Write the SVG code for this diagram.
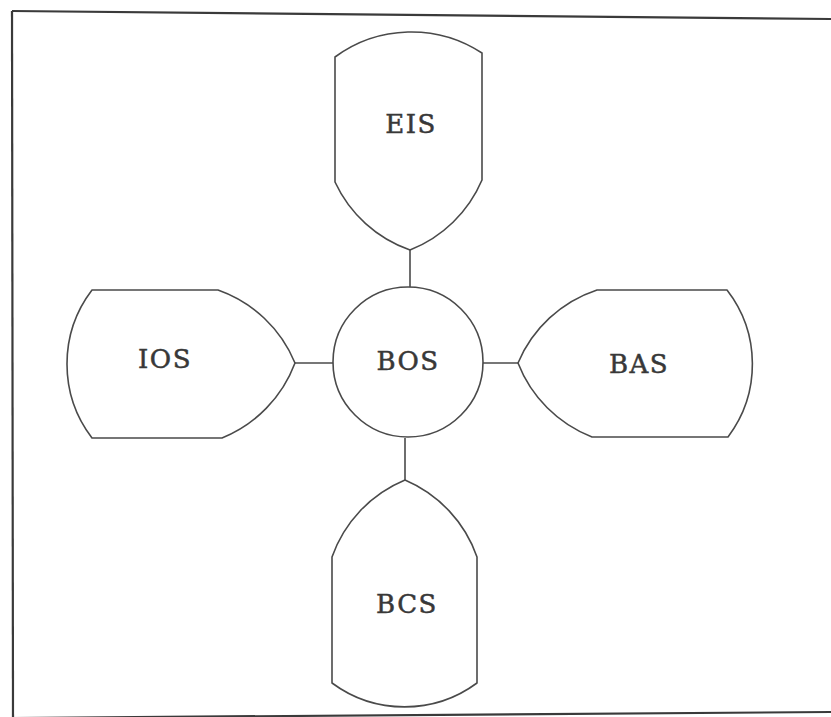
<svg xmlns="http://www.w3.org/2000/svg" width="831" height="717" viewBox="0 0 831 717">
<style>
.shape{fill:none;stroke:#4a4a4a;stroke-width:1.6;stroke-linejoin:round}
.conn{stroke:#4a4a4a;stroke-width:1.6;fill:none}
.frame{stroke:#3a3a3a;stroke-width:2.2;fill:none}
.lbl{font-family:"DejaVu Serif","Liberation Serif",serif;font-size:26px;letter-spacing:1.5px;fill:#383838;stroke:#383838;stroke-width:0.5;text-anchor:middle}
</style>
<rect width="831" height="717" fill="#ffffff"/>
<g id="frame">
<path class="frame" d="M12,11 L831,19"/>
<path class="frame" d="M12,11 L13,717"/>
<path class="frame" d="M13,718 L831,712"/>
</g>
<g id="connectors">
<line class="conn" x1="410" y1="250" x2="410" y2="287"/>
<line class="conn" x1="295" y1="363" x2="333" y2="363"/>
<line class="conn" x1="483" y1="363" x2="518" y2="363"/>
<line class="conn" x1="405" y1="438" x2="405" y2="480"/>
</g>
<g id="BOS">
<circle class="shape" cx="408" cy="362" r="75"/>
<text class="lbl" x="408" y="370">BOS</text>
</g>
<g id="EIS">
<path class="shape" d="M335,57 A129,129 0 0 1 482,53 L482,180 A130,130 0 0 1 410,250 A130,130 0 0 1 335,182 Z"/>
<text class="lbl" x="411" y="133">EIS</text>
</g>
<g id="IOS">
<path class="shape" d="M92,290 L218,290 A130,130 0 0 1 295,363 A130,130 0 0 1 222,438 L92,438 A122,122 0 0 1 92,290 Z"/>
<text class="lbl" x="165" y="368">IOS</text>
</g>
<g id="BAS">
<path class="shape" d="M597,290 L727,290 A121,121 0 0 1 728,437 L592,437 A130,130 0 0 1 518,363 A130,130 0 0 1 597,290 Z"/>
<text class="lbl" x="639" y="373">BAS</text>
</g>
<g id="BCS">
<path class="shape" d="M405,480 A130,130 0 0 1 477,557 L477,683 A122,122 0 0 1 332,683 L332,557 A130,130 0 0 1 405,480 Z"/>
<text class="lbl" x="407" y="613">BCS</text>
</g>
</svg>
